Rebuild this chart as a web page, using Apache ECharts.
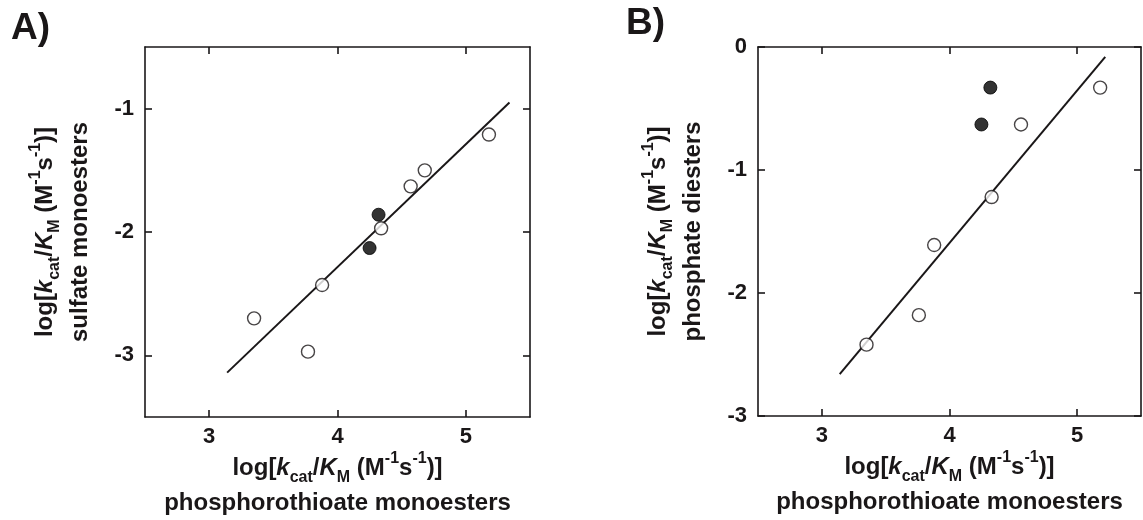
<!DOCTYPE html>
<html><head><meta charset="utf-8">
<script src="https://cdn.jsdelivr.net/npm/echarts@6/dist/echarts.min.js"></script>
<style>html,body{margin:0;padding:0;background:#fff}#c{width:1143px;height:520px}</style>
</head><body><div id="c"></div>
<script>
// ---- Panel A: sulfate monoesters vs phosphorothioate monoesters ----
const aOpenX = [3.35, 3.77, 3.88, 4.34, 4.57, 4.68, 5.18];
const aOpenY = [-2.70, -2.97, -2.43, -1.97, -1.63, -1.50, -1.21];
const aFilledX = [4.25, 4.32];
const aFilledY = [-2.13, -1.86];
const aFitX = [3.14, 5.34];
const aFitY = [-3.14, -0.95];
// ---- Panel B: phosphate diesters vs phosphorothioate monoesters ----
const bOpenX = [3.35, 3.76, 3.88, 4.33, 4.56, 5.18];
const bOpenY = [-2.42, -2.18, -1.61, -1.22, -0.63, -0.33];
const bFilledX = [4.25, 4.32];
const bFilledY = [-0.63, -0.33];
const bFitX = [3.14, 5.22];
const bFitY = [-2.66, -0.08];
// ---- ticks & labels ----
const xTicks = [3, 4, 5];
const aYTicks = [-3, -2, -1];
const bYTicks = [-3, -2, -1, 0];
const panelLabels = ['A)', 'B)'];
const unitLine = '{b|log[}{i|k}{sub|cat}{b|/}{i|K}{sub|M}{b| (M}{sup|-1}{b|s}{sup|-1}{b|)]}';
const xTitle = unitLine + '\n{b|phosphorothioate monoesters}';
const aYTitle = unitLine + '\n{b|sulfate monoesters}';
const bYTitle = unitLine + '\n{b|phosphate diesters}';

const INK = '#1a1718';
const FONT = '"Liberation Sans", Arial, sans-serif';
const TS = 24;
const LH = 35;
const rich = {
  b: {fontFamily: FONT, fontWeight: 'bold', fontSize: TS, lineHeight: LH, color: INK},
  i: {fontFamily: FONT, fontWeight: 'bold', fontStyle: 'italic', fontSize: TS, lineHeight: LH, color: INK},
  sub: {fontFamily: FONT, fontWeight: 'bold', fontSize: 16, lineHeight: 16, verticalAlign: 'bottom', color: INK},
  sup: {fontFamily: FONT, fontWeight: 'bold', fontSize: 16, lineHeight: 16, verticalAlign: 'top', color: INK}
};
const nameStyle = {fontFamily: FONT, fontWeight: 'bold', fontSize: TS, color: INK, rich: rich, align: 'center'};
const labelStyle = {fontFamily: FONT, fontWeight: 'bold', fontSize: 22, color: INK};
const lineStyle = {color: INK, width: 1.6};

function pairs(xs, ys) { return xs.map((x, i) => [x, ys[i]]); }

function xAx(grid, pos, withLabels) {
  return {
    type: 'value', gridIndex: grid, position: pos, min: 2.5, max: 5.5,
    axisLine: {show: true, onZero: false, lineStyle: lineStyle},
    axisTick: {show: true, inside: true, length: 7, customValues: xTicks, lineStyle: lineStyle},
    axisLabel: withLabels ? Object.assign({show: true, margin: 9, customValues: xTicks, formatter: v => String(v)}, labelStyle) : {show: false},
    splitLine: {show: false},
    name: withLabels ? xTitle : '',
    nameLocation: 'middle', nameGap: 34, nameTextStyle: nameStyle, nameMoveOverlap: false
  };
}
function yAx(grid, pos, mn, mx, ticks, withLabels, title) {
  return {
    type: 'value', gridIndex: grid, position: pos, min: mn, max: mx,
    axisLine: {show: true, onZero: false, lineStyle: lineStyle},
    axisTick: {show: true, inside: true, length: 7, customValues: ticks, lineStyle: lineStyle},
    axisLabel: withLabels ? Object.assign({show: true, margin: 11, customValues: ticks, formatter: v => String(v)}, labelStyle) : {show: false},
    splitLine: {show: false},
    name: withLabels ? title : '',
    nameLocation: 'middle', nameGap: 47, nameRotate: 90, nameTextStyle: nameStyle, nameMoveOverlap: false
  };
}

const openStyle = {color: '#ffffff', borderColor: INK, borderWidth: 1.4};
const fillStyle = {color: '#000000', borderColor: '#000000', borderWidth: 1};

const option = {
  animation: false,
  backgroundColor: '#ffffff',
  grid: [
    {left: 145, right: 613, top: 47, bottom: 103, outerBoundsMode: 'none', containLabel: false},
    {left: 758, right: 2, top: 47, bottom: 104, outerBoundsMode: 'none', containLabel: false}
  ],
  xAxis: [xAx(0, 'bottom', true), xAx(0, 'top', false), xAx(1, 'bottom', true), xAx(1, 'top', false)],
  yAxis: [
    yAx(0, 'left', -3.5, -0.5, aYTicks, true, aYTitle), yAx(0, 'right', -3.5, -0.5, aYTicks, false, ''),
    yAx(1, 'left', -3, 0, bYTicks, true, bYTitle), yAx(1, 'right', -3, 0, bYTicks, false, '')
  ],
  series: [
    {type: 'line', xAxisIndex: 0, yAxisIndex: 0, data: pairs(aFitX, aFitY), showSymbol: false, lineStyle: {color: INK, width: 2}, z: 2},
    {type: 'scatter', xAxisIndex: 0, yAxisIndex: 0, data: pairs(aOpenX, aOpenY), symbol: 'circle', symbolSize: 13, itemStyle: openStyle, z: 3},
    {type: 'scatter', xAxisIndex: 0, yAxisIndex: 0, data: pairs(aFilledX, aFilledY), symbol: 'circle', symbolSize: 13, itemStyle: fillStyle, z: 3},
    {type: 'line', xAxisIndex: 2, yAxisIndex: 2, data: pairs(bFitX, bFitY), showSymbol: false, lineStyle: {color: INK, width: 2}, z: 2},
    {type: 'scatter', xAxisIndex: 2, yAxisIndex: 2, data: pairs(bOpenX, bOpenY), symbol: 'circle', symbolSize: 13, itemStyle: openStyle, z: 3},
    {type: 'scatter', xAxisIndex: 2, yAxisIndex: 2, data: pairs(bFilledX, bFilledY), symbol: 'circle', symbolSize: 13, itemStyle: fillStyle, z: 3}
  ],
  graphic: [
    {type: 'text', left: 11, top: 10, style: {text: panelLabels[0], fontFamily: FONT, fontWeight: 'bold', fontSize: 37, fill: INK}},
    {type: 'text', left: 626, top: 5, style: {text: panelLabels[1], fontFamily: FONT, fontWeight: 'bold', fontSize: 37, fill: INK}}
  ]
};
const chart = echarts.init(document.getElementById('c'), null, {renderer: 'canvas'});
chart.setOption(option);
</script>
</body></html>
